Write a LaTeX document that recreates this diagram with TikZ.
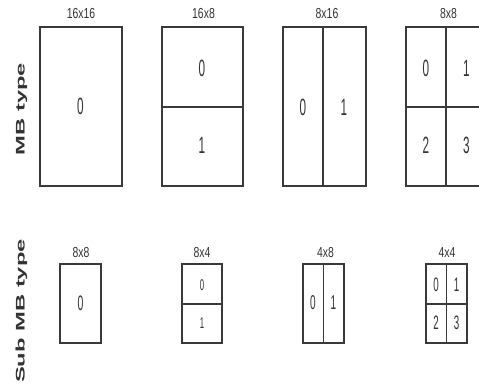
\documentclass[tikz,border=0pt]{standalone}
\usepackage{fontspec}
\setmainfont{Liberation Sans}
\usepackage{graphicx}
\definecolor{linec}{HTML}{3A3A3A}
\definecolor{txtc}{HTML}{333333}
\newcommand{\dg}[2]{\scalebox{0.5}[1]{\fontsize{#1}{#1}\selectfont #2}}
\newcommand{\lb}[1]{\scalebox{0.72}[1]{\fontsize{14.5}{14.5}\selectfont #1}}
\newcommand{\side}[1]{\scalebox{1.9}[1]{\fontsize{12.5}{12.5}\selectfont\bfseries #1}}
\tikzset{
  box/.style={draw=linec, line width=1.2pt},
  num/.style={text=txtc, inner sep=0pt, anchor=center},
  lab/.style={text=txtc, inner sep=0pt, anchor=base},
  sidelab/.style={text=txtc, inner sep=0pt, anchor=base, rotate=90},
}
\begin{document}
\begin{tikzpicture}[x=1pt,y=-1pt]
\useasboundingbox (0,0) rectangle (479,385);
\clip (0,0) rectangle (479,385);
% side labels
\node[sidelab] (mbt) at (24.5,109) {\side{MB type}};
\node[sidelab] (smbt) at (24.5,311) {\side{Sub MB type}};
% ---- top row ----
% 16x16
\draw[box] (40,27) rectangle (122,186);
\node[lab] (l1) at (81,19) {\lb{16x16}};
\node[num] (a0) at (80.5,106) {\dg{23.5}{0}};
% 16x8
\draw[box] (162,27) rectangle (243,186);
\draw[box] (162,107) -- (243,107);
\node[lab] (l2) at (203.5,19) {\lb{16x8}};
\node[num] (b0) at (202,68) {\dg{23.5}{0}};
\node[num] (b1) at (202,145) {\dg{23.5}{1}};
% 8x16
\draw[box] (283,27) rectangle (366,186);
\draw[box] (323,27) -- (323,186);
\node[lab] (l3) at (327,19) {\lb{8x16}};
\node[num] (c0) at (303,107) {\dg{23.5}{0}};
\node[num] (c1) at (344,107) {\dg{23.5}{1}};
% 8x8
\draw[box] (406,27) rectangle (486,186);
\draw[box] (446,27) -- (446,186);
\draw[box] (406,107) -- (486,107);
\node[lab] (l4) at (448.5,19) {\lb{8x8}};
\node[num] (d0) at (426,68) {\dg{23.5}{0}};
\node[num] (d1) at (466.5,68) {\dg{23.5}{1}};
\node[num] (d2) at (426,145) {\dg{23.5}{2}};
\node[num] (d3) at (466.5,145) {\dg{23.5}{3}};
% ---- bottom row ----
% 8x8
\draw[box] (60,264) rectangle (101,343);
\node[lab] (m1) at (81,257) {\lb{8x8}};
\node[num] (e0) at (80.5,303) {\dg{21}{0}};
% 8x4
\draw[box] (182,264) rectangle (222,343);
\draw[box] (182,304) -- (222,304);
\node[lab] (m2) at (202,257) {\lb{8x4}};
\node[num] (f0) at (202,285) {\dg{15.5}{0}};
\node[num] (f1) at (202,323) {\dg{15.5}{1}};
% 4x8
\draw[box] (303,264) rectangle (344,343);
\draw[box] (323.5,264) -- (323.5,343);
\node[lab] (m3) at (325.5,257) {\lb{4x8}};
\node[num] (g0) at (313,303) {\dg{20}{0}};
\node[num] (g1) at (333.5,303) {\dg{20}{1}};
% 4x4
\draw[box] (426,264) rectangle (467,343);
\draw[box] (446.5,264) -- (446.5,343);
\draw[box] (426,304) -- (467,304);
\node[lab] (m4) at (447,257) {\lb{4x4}};
\node[num] (h0) at (436,285) {\dg{19.5}{0}};
\node[num] (h1) at (456.5,285) {\dg{19.5}{1}};
\node[num] (h2) at (436,323) {\dg{19.5}{2}};
\node[num] (h3) at (456.5,323) {\dg{19.5}{3}};
\end{tikzpicture}
\end{document}
